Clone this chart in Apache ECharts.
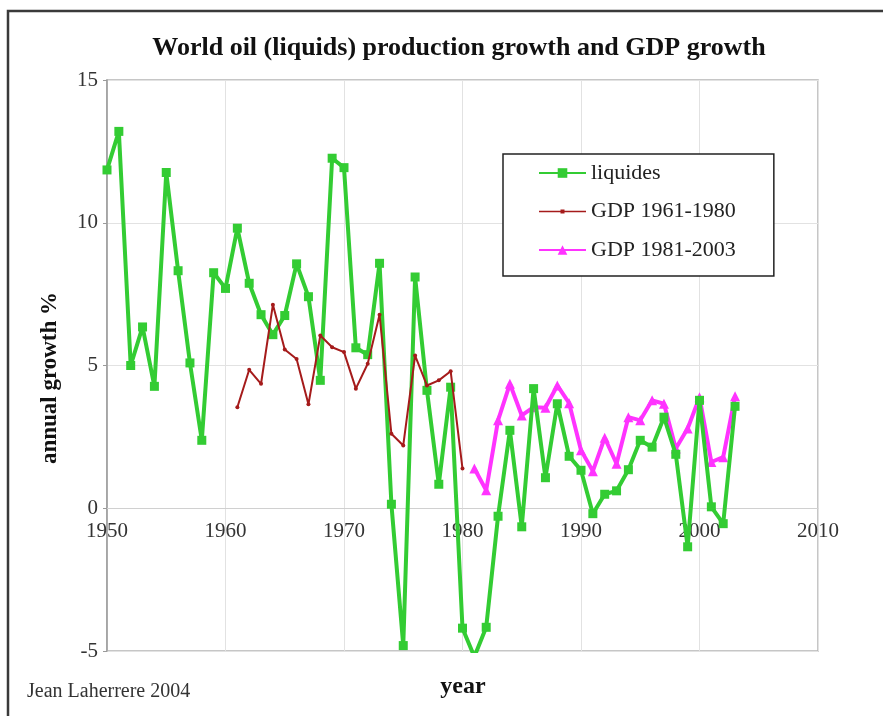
<!DOCTYPE html>
<html>
<head>
<meta charset="utf-8">
<script src="https://cdn.jsdelivr.net/npm/echarts@6/dist/echarts.min.js"></script>
<style>
html,body{margin:0;padding:0;background:#fff;}
#chart{width:883px;height:716px;}
</style>
</head>
<body>
<div id="chart"></div>
<script>
var liqYears = [1950,1951,1952,1953,1954,1955,1956,1957,1958,1959,1960,1961,1962,1963,1964,1965,1966,1967,1968,1969,1970,1971,1972,1973,1974,1975,1976,1977,1978,1979,1980,1981,1982,1983,1984,1985,1986,1987,1988,1989,1990,1991,1992,1993,1994,1995,1996,1997,1998,1999,2000,2001,2002,2003];
var liquides = [11.85,13.2,5.0,6.35,4.27,11.76,8.32,5.09,2.38,8.25,7.7,9.81,7.88,6.78,6.08,6.75,8.56,7.41,4.48,12.26,11.93,5.62,5.38,8.58,0.14,-4.81,8.1,4.13,0.84,4.24,-4.2,-5.2,-4.17,-0.28,2.73,-0.65,4.19,1.07,3.66,1.82,1.33,-0.19,0.49,0.61,1.35,2.38,2.14,3.19,1.89,-1.35,3.78,0.05,-0.54,3.57];
var gdp1Years = [1961,1962,1963,1964,1965,1966,1967,1968,1969,1970,1971,1972,1973,1974,1975,1976,1977,1978,1979,1980];
var gdp1 = [3.54,4.85,4.36,7.13,5.56,5.23,3.64,6.05,5.64,5.47,4.19,5.06,6.78,2.61,2.20,5.35,4.30,4.48,4.80,1.39];
var gdp2Years = [1981,1982,1983,1984,1985,1986,1987,1988,1989,1990,1991,1992,1993,1994,1995,1996,1997,1998,1999,2000,2001,2002,2003];
var gdp2 = [1.39,0.63,3.08,4.36,3.25,3.54,3.52,4.30,3.68,2.03,1.30,2.47,1.56,3.19,3.08,3.78,3.66,2.09,2.79,3.89,1.62,1.79,3.92];
var seriesNames = ['liquides','GDP 1961-1980','GDP 1981-2003'];

function pairs(xs, ys){ return xs.map(function(x,i){ return [x, ys[i]]; }); }

var serif = 'Liberation Serif';
var chart = echarts.init(document.getElementById('chart'));
chart.setOption({
  animation: false,
  backgroundColor: '#fff',
  title: {
    text: 'World oil (liquids) production growth and GDP growth',
    left: 454, top: 30, textAlign: 'center',
    textStyle: {fontFamily: serif, fontWeight: 'bold', fontSize: 26, color: '#111'}
  },
  grid: [
    {left: 107, top: 80, right: 65, bottom: 65, show: true, borderColor: '#b4b4b4', borderWidth: 1.5, backgroundColor: 'transparent'},
    {left: 107, top: 80, right: 65, bottom: 208, show: false}
  ],
  legend: {
    orient: 'vertical', left: 503, top: 154,
    padding: [8, 38, 15, 35],
    itemWidth: 47, itemHeight: 12, itemGap: 16.5,
    backgroundColor: '#fff', borderColor: '#222', borderWidth: 1.5,
    textStyle: {fontFamily: serif, fontSize: 22, color: '#222', lineHeight: 22},
    data: [
      {name: seriesNames[0]},
      {name: seriesNames[1], icon: 'path://M0,0 M47,12 M0,5.3 L47,5.3 L47,6.7 L0,6.7 Z M21.5,4 L25.5,4 L25.5,8 L21.5,8 Z'},
      {name: seriesNames[2]}
    ]
  },
  xAxis: [
    {
      gridIndex: 0, type: 'value', min: 1950, max: 2010, interval: 10,
      axisLine: {show: false},
      axisTick: {show: false},
      axisLabel: {show: false},
      splitLine: {show: true, lineStyle: {color: '#e2e2e2', width: 1}}
    },
    {
      gridIndex: 1, type: 'value', min: 1950, max: 2010, interval: 10,
      axisLine: {show: true, lineStyle: {color: '#d0d0d0', width: 1}},
      axisTick: {show: false},
      axisLabel: {fontFamily: serif, fontSize: 21, color: '#333', margin: 13, formatter: function(v){ return String(v); }},
      splitLine: {show: false}
    }
  ],
  yAxis: [
    {
      gridIndex: 0, type: 'value', min: -5, max: 15, interval: 5,
      axisLine: {show: true, lineStyle: {color: '#9a9a9a', width: 1.5}},
      axisTick: {show: true, inside: false, length: 4, lineStyle: {color: '#9a9a9a'}},
      axisLabel: {fontFamily: serif, fontSize: 21, color: '#333', margin: 9},
      splitLine: {show: true, lineStyle: {color: '#e2e2e2', width: 1}}
    },
    {gridIndex: 1, type: 'value', min: 0, max: 1, show: false}
  ],
  graphic: [
    {type: 'rect', silent: true, z: 100, shape: {x: 8, y: 11, width: 900, height: 800}, style: {fill: 'none', stroke: '#3a3a3a', lineWidth: 2.5}},
    {type: 'text', x: 50, y: 378, rotation: Math.PI/2, z: 100, style: {text: 'annual growth %', fontFamily: serif, fontWeight: 'bold', fontSize: 23, fill: '#111', textAlign: 'center', textVerticalAlign: 'middle'}},
    {type: 'text', x: 463, y: 687, z: 100, style: {text: 'year', fontFamily: serif, fontWeight: 'bold', fontSize: 24, fill: '#111', textAlign: 'center', textVerticalAlign: 'middle'}},
    {type: 'text', x: 27, y: 692, z: 100, style: {text: 'Jean Laherrere 2004', fontFamily: serif, fontSize: 20, fill: '#333', textAlign: 'left', textVerticalAlign: 'middle'}}
  ],
  series: [
    {name: seriesNames[0], type: 'line', xAxisIndex: 0, yAxisIndex: 0, data: pairs(liqYears, liquides), symbol: 'rect', symbolSize: 9,
     lineStyle: {color: '#33cc33', width: 4}, itemStyle: {color: '#33cc33'}, z: 3},
    {name: seriesNames[1], type: 'line', xAxisIndex: 0, yAxisIndex: 0, data: pairs(gdp1Years, gdp1), symbol: 'circle', symbolSize: 4,
     lineStyle: {color: '#a51b1b', width: 2}, itemStyle: {color: '#a51b1b'}, z: 4},
    {name: seriesNames[2], type: 'line', xAxisIndex: 0, yAxisIndex: 0, data: pairs(gdp2Years, gdp2), symbol: 'triangle', symbolSize: 10,
     lineStyle: {color: '#ff33ff', width: 4}, itemStyle: {color: '#ff33ff'}, z: 2}
  ]
});
</script>
</body>
</html>
